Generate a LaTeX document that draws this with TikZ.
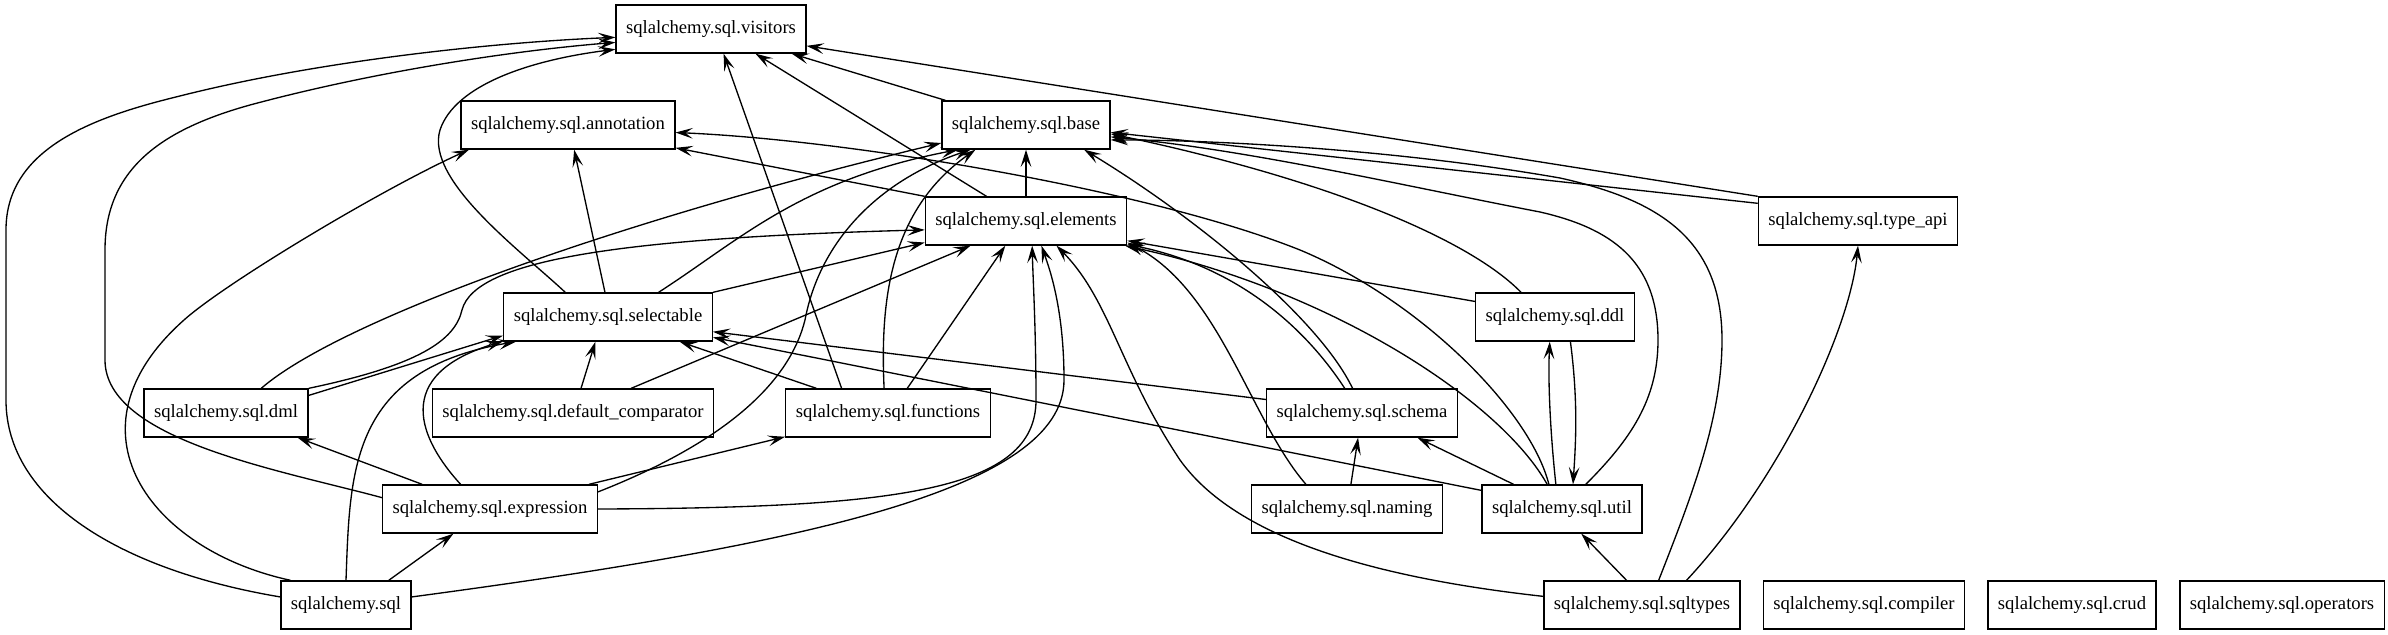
\documentclass[tikz,border=0pt]{standalone}
\usepackage{fontspec}
\setmainfont{Liberation Serif}
\usetikzlibrary{arrows.meta}

\begin{document}
\begin{tikzpicture}[
	x=0.75pt, y=-0.75pt,
	% Node styles
	module/.style={
		rectangle,
		draw=black,
		line width=1pt,
		minimum height=36pt,
		inner xsep=7.5pt,
		font=\fontsize{14}{17}\selectfont
	},
	dep/.style={
		-{Stealth[length=13pt,width=8pt,inset=5.5pt]},
		line width=1pt
	}
	]
	
	% Frame
	\useasboundingbox (0,0) rectangle (2388,635);
	
	% Modules
	\node[module] (visitors) at (711,29) {sqlalchemy.sql.visitors};
	\node[module] (annotation) at (568,125) {sqlalchemy.sql.annotation};
	\node[module] (base) at (1026,125) {sqlalchemy.sql.base};
	\node[module] (elements) at (1026,221) {sqlalchemy.sql.elements};
	\node[module] (typeapi) at (1858,221) {sqlalchemy.sql.type\_api};
	\node[module] (selectable) at (608,317) {sqlalchemy.sql.selectable};
	\node[module] (ddl) at (1555,317) {sqlalchemy.sql.ddl};
	\node[module] (dml) at (226,413) {sqlalchemy.sql.dml};
	\node[module] (defcomp) at (573,413) {sqlalchemy.sql.default\_comparator};
	\node[module] (functions) at (888,413) {sqlalchemy.sql.functions};
	\node[module] (schema) at (1362,413) {sqlalchemy.sql.schema};
	\node[module] (expression) at (490,509) {sqlalchemy.sql.expression};
	\node[module] (naming) at (1347,509) {sqlalchemy.sql.naming};
	\node[module] (util) at (1562,509) {sqlalchemy.sql.util};
	\node[module] (sql) at (346,605) {sqlalchemy.sql};
	\node[module] (sqltypes) at (1642,605) {sqlalchemy.sql.sqltypes};
	\node[module] (compiler) at (1864,605) {sqlalchemy.sql.compiler};
	\node[module] (crud) at (2072,605) {sqlalchemy.sql.crud};
	\node[module] (operators) at (2282,605) {sqlalchemy.sql.operators};
	
	% Into visitors
	\draw[dep] (sql.173) .. controls (120,570) and (6,500) .. (6,400) -- (6,230) .. controls (6,150) and (90,118) .. (176,97) .. controls (320,60) and (500,42) .. (visitors.185);
	\draw[dep] (expression.174) .. controls (280,470) and (105,440) .. (105,360) -- (105,250) .. controls (105,170) and (160,130) .. (250,105) .. controls (380,70) and (520,50) .. (visitors.188);
	\draw[dep] (selectable.150) .. controls (520,250) and (425,180) .. (440,130) .. controls (455,85) and (530,60) .. (visitors.192);
	\draw[dep] (functions.152) -- (visitors.297);
	\draw[dep] (elements.148) -- (visitors.331);
	\draw[dep] (base.163) -- (visitors.343);
	\draw[dep] (typeapi.north west) -- (visitors.350);
	
	% Into base
	\draw[dep] (typeapi.170) -- (base.355);
	\draw[dep] (sqltypes.56) .. controls (1690,500) and (1722,420) .. (1722,340) .. controls (1722,240) and (1660,200) .. (1560,178) .. controls (1400,150) and (1220,140) .. (base.350);
	\draw[dep] (util.46) .. controls (1630,440) and (1658,400) .. (1658,340) .. controls (1658,260) and (1610,228) .. (1540,212) .. controls (1400,185) and (1250,150) .. (base.352);
	\draw[dep] (ddl.144) .. controls (1470,240) and (1330,180) .. (base.354);
	\draw[dep] (schema.111) .. controls (1320,320) and (1200,220) .. (base.337);
	\draw[dep] (elements) -- (base);
	\draw[dep] (dml.35) .. controls (340,320) and (620,220) .. (base.192);
	\draw[dep] (selectable.26) .. controls (740,240) and (800,180) .. (base.200);
	\draw[dep] (expression.9) .. controls (730,440) and (790,380) .. (805,320) .. controls (820,240) and (880,180) .. (base.204);
	\draw[dep] (functions.99) .. controls (880,300) and (890,210) .. (base.206);
	
	% Into elements
	\draw[dep] (dml.north east) .. controls (420,365) and (455,340) .. (462,310) .. controls (475,260) and (620,238) .. (elements.185);
	\draw[dep] (selectable.north east) -- (elements.192);
	\draw[dep] (defcomp.23) -- (elements.204);
	\draw[dep] (functions.52) -- (elements.230);
	\draw[dep] (expression.east) .. controls (900,508) and (1036,490) .. (1036,400) .. controls (1036,330) and (1033,280) .. (elements.284);
	\draw[dep] (sql.7) .. controls (800,545) and (1064,490) .. (1064,380) .. controls (1064,310) and (1050,270) .. (elements.302);
	\draw[dep] (sqltypes.175) .. controls (1350,575) and (1230,530) .. (1180,460) .. controls (1120,370) and (1110,300) .. (elements.321);
	\draw[dep] (ddl.169) -- (elements.349);
	\draw[dep] (naming.149) .. controls (1250,420) and (1220,290) .. (elements.348);
	\draw[dep] (schema.125) .. controls (1300,320) and (1230,265) .. (elements.347);
	\draw[dep] (util.121) .. controls (1500,400) and (1330,290) .. (elements.346);
	
	% Into annotation
	\draw[dep] (util.118) .. controls (1530,410) and (1420,300) .. (1300,250) .. controls (1150,190) and (850,140) .. (annotation.356);
	\draw[dep] (elements.north west) -- (annotation.348);
	\draw[dep] (selectable.97) -- (annotation.284);
	\draw[dep] (sql.156) .. controls (150,550) and (60,430) .. (184,320) .. controls (224,284) and (380,190) .. (annotation.194);
	
	% Into selectable
	\draw[dep] (dml.12) -- (selectable.190);
	\draw[dep] (expression.140) .. controls (420,440) and (390,375) .. (selectable.193);
	\draw[dep] (sql.north) .. controls (350,470) and (350,370) .. (selectable.195);
	\draw[dep] (defcomp.72) -- (selectable.243);
	\draw[dep] (functions.161) -- (selectable.341);
	\draw[dep] (schema.172) -- (selectable.352);
	\draw[dep] (util.167) -- (selectable.349);
	
	% Remaining dependencies
	\draw[dep] (expression.160) -- (dml.341);
	\draw[dep] (expression.14) -- (functions.193);
	\draw[dep] (sql.30) -- (expression.214);
	\draw[dep] (naming.81) -- (schema.261);
	\draw[dep] (util.153) -- (schema.336);
	\draw[dep] (util.104) .. controls (1550,430) and (1548,380) .. (ddl.258);
	\draw[dep] (ddl.302) .. controls (1578,400) and (1576,440) .. (util.66);
	\draw[dep] (sqltypes.122) -- (util.308);
	\draw[dep] (sqltypes.29) .. controls (1780,480) and (1850,330) .. (typeapi.south);
	
\end{tikzpicture}
\end{document}
